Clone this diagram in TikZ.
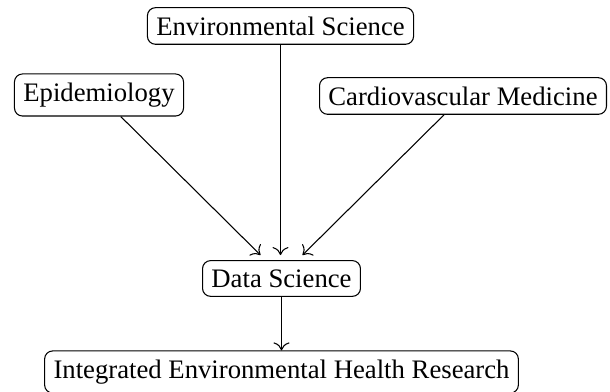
\documentclass[tikz,border=0pt]{standalone}
\usepackage{fontspec}
\setmainfont{Liberation Serif}
\usetikzlibrary{arrows.meta,calc}
\begin{document}
\begin{tikzpicture}[x=0.3745pt,y=-0.3745pt,
  field/.style={draw,rounded corners=3pt,inner sep=3.33pt,font=\fontsize{10}{12}\selectfont},
  link/.style={draw,-{To[length=3pt,width=6pt]},line width=0.4pt}]
\useasboundingbox (0,0) rectangle (610,392);
\node[field] (env) at (280.5,26) {Environmental Science};
\node[field] (epi) at (99,95) {Epidemiology};
\node[field] (cardio) at (463,96) {Cardiovascular Medicine};
\node[field] (data) at (281.5,278.5) {Data Science};
\node[field] (ier) at (281.5,372) {Integrated Environmental Health Research};
% entry points just above the Data Science box
\coordinate (inL) at ($(data.north)+(-21,-5)$);
\coordinate (inM) at ($(data.north)+(-1,-5)$);
\coordinate (inR) at ($(data.north)+(21,-5)$);
\draw[link] (epi) -- (inL);
\draw[link] (env) -- (inM);
\draw[link] (cardio) -- (inR);
\draw[link] (data) -- (ier);
\end{tikzpicture}
\end{document}
